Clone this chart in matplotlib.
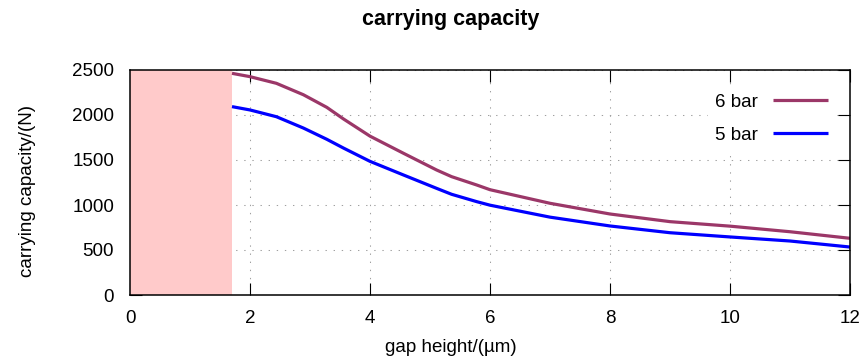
import matplotlib
matplotlib.use("Agg")
import matplotlib.pyplot as plt

# gap height (µm) and carrying capacity (N) for two supply pressures
gap_6bar = [1.7, 2.0, 2.44, 2.89, 3.28, 3.56, 4.0, 4.56, 5.11, 5.36, 5.78, 6.0, 7.0, 8.0, 9.0, 10.0, 11.0, 12.0]
load_6bar = [2463, 2426, 2352, 2225, 2085, 1955, 1765, 1574, 1389, 1315, 1222, 1170, 1019, 900, 815, 765, 703, 630]
gap_5bar = [1.7, 2.0, 2.44, 2.89, 3.28, 3.56, 4.0, 4.56, 5.11, 5.36, 5.78, 6.0, 7.0, 8.0, 9.0, 10.0, 11.0, 12.0]
load_5bar = [2093, 2056, 1981, 1855, 1730, 1632, 1485, 1333, 1185, 1119, 1037, 998, 865, 767, 692, 645, 600, 533]
series_labels = ["6 bar", "5 bar"]
excluded_gap = [0.0, 1.7]
x_ticks = [0, 2, 4, 6, 8, 10, 12]
y_ticks = [0, 500, 1000, 1500, 2000, 2500]

plt.rcParams["font.family"] = ["Liberation Sans", "DejaVu Sans"]

W, H = 863, 364
fig = plt.figure(figsize=(W / 100, H / 100), dpi=100)
ax = fig.add_axes([130 / W, 1 - 295 / H, 720 / W, 225 / H])

ax.axvspan(excluded_gap[0], excluded_gap[1], color="#ffcaca", lw=0, zorder=1)

ax.plot(gap_6bar, load_6bar, color="#9b3768", lw=2.3, label=series_labels[0], zorder=3,
        solid_capstyle="butt", solid_joinstyle="round")
ax.plot(gap_5bar, load_5bar, color="#0000ff", lw=2.3, label=series_labels[1], zorder=3,
        solid_capstyle="butt", solid_joinstyle="round")

ax.set_xlim(0, 12)
ax.set_ylim(0, 2500)
ax.set_xticks(x_ticks)
ax.set_yticks(y_ticks)
ax.tick_params(direction="in", length=8.5, width=0.8, top=True, right=True,
               labelsize=13.5, colors="black")
ax.tick_params(axis="y", pad=11.5)
ax.tick_params(axis="x", pad=10.5)
ax.grid(True, color="#a0a0a0", lw=0.75, linestyle=(0, (1.3, 6.5)), zorder=0)
ax.set_axisbelow(True)
for s in ax.spines.values():
    s.set_linewidth(1.1)
    s.set_zorder(5)

fig.text(27 / W, 1 - 191 / H, "carrying capacity/(N)", fontsize=13.5, rotation=90,
         ha="center", va="center")
fig.text(451 / W, 1 - 348 / H, "gap height/(µm)", fontsize=13.5, ha="center", va="center")
fig.text(451 / W, 1 - 20 / H, "carrying capacity", fontsize=15.5, fontweight="bold",
         ha="center", va="center")

leg = ax.legend(loc="upper right", bbox_to_anchor=(1 - 15 / 720, 1 - 16 / 225), frameon=True,
                fancybox=False, framealpha=1, facecolor="white", edgecolor="none",
                fontsize=13.5, markerfirst=False, handlelength=2.9, handletextpad=0.8,
                labelspacing=0.85, borderpad=0.4, borderaxespad=0.0)
leg.set_zorder(4)

fig.savefig("out.png", dpi=100)
